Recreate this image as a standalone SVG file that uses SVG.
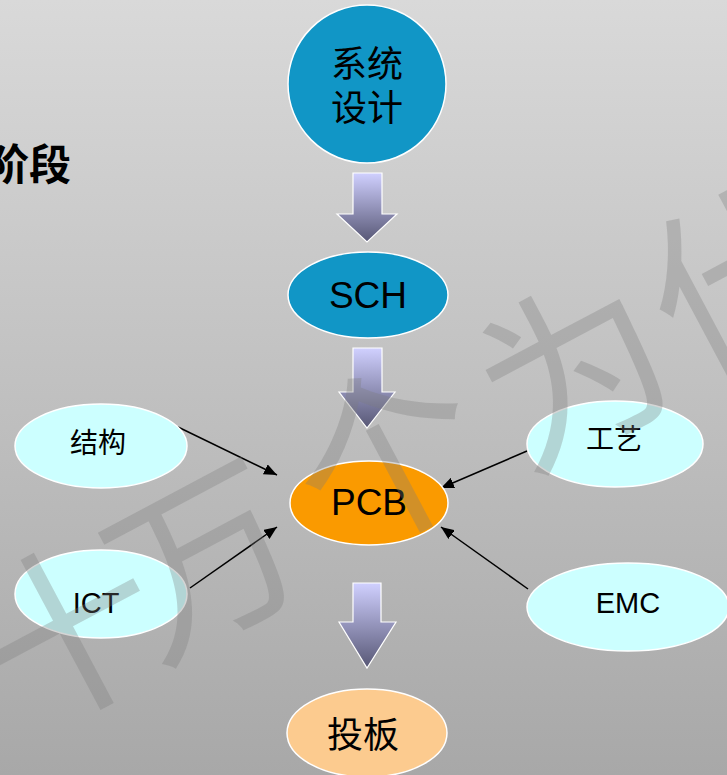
<svg xmlns="http://www.w3.org/2000/svg" width="727" height="775" viewBox="0 0 727 775">
  <defs>
    <linearGradient id="bg" x1="0" y1="0" x2="0" y2="1">
      <stop offset="0" stop-color="#d9d9d9"/>
      <stop offset="1" stop-color="#a8a8a8"/>
    </linearGradient>
    <linearGradient id="flow" x1="0" y1="0" x2="0" y2="1">
      <stop offset="0" stop-color="#d0d0ff"/>
      <stop offset="1" stop-color="#575775"/>
    </linearGradient>
    <marker id="head" viewBox="0 0 10 10" refX="10" refY="5" markerWidth="13" markerHeight="11" orient="auto" markerUnits="userSpaceOnUse" preserveAspectRatio="none">
      <path d="M0,0 L10,5 L0,10 Z" fill="#000"/>
    </marker>
  </defs>
  <style>
    .node { stroke: #ffffff; stroke-width: 1.5; }
    .blue { fill: #1196c6; }
    .orange { fill: #fa9a00; }
    .peach { fill: #fccb8f; }
    .cyan { fill: #ccffff; }
    .flow { fill: url(#flow); stroke: #ffffff; stroke-width: 1.2; }
    .link { stroke: #000; stroke-width: 1.5; fill: none; marker-end: url(#head); }
    .zh { font-family: "Noto Sans CJK SC", sans-serif; fill: #000; text-anchor: middle; }
    .en { font-family: "Liberation Sans", Arial, sans-serif; fill: #000; text-anchor: middle; }
    .mark { font-family: "Noto Sans CJK SC", sans-serif; font-size: 185px; fill: #7c7c7c; fill-opacity: 0.32; text-anchor: middle; dominant-baseline: central; }
  </style>

  <!-- backdrop -->
  <rect width="727" height="775" fill="url(#bg)"/>

  <!-- heading (runs off the left edge) -->
  <text x="71" y="180" font-family="'Noto Sans CJK SC', sans-serif" font-size="42" font-weight="bold" fill="#000" text-anchor="end">阶段</text>

  <!-- main flow arrows -->
  <g id="flow-arrows">
    <path class="flow" d="M353,173 H382 V214 H397 L367,242 L337,214 H353 Z"/>
    <path class="flow" d="M353,348 H382 V392 H395 L367,428 L339,392 H353 Z"/>
    <path class="flow" d="M353,583 H381 V622 H396 L367,668 L339,622 H353 Z"/>
  </g>

  <!-- connectors -->
  <g id="connectors">
    <line class="link" x1="178" y1="427" x2="277" y2="475"/>
    <line class="link" x1="190" y1="588" x2="277" y2="527"/>
    <line class="link" x1="527" y1="451" x2="441" y2="488"/>
    <line class="link" x1="528" y1="589" x2="441" y2="527"/>
  </g>

  <g id="node-system">
    <circle class="node blue" cx="367" cy="84" r="79"/>
    <text class="zh" font-size="36"><tspan x="367" y="77">系统</tspan><tspan x="367" y="121">设计</tspan></text>
  </g>

  <g id="node-sch">
    <ellipse class="node blue" cx="368" cy="295" rx="80" ry="43"/>
    <text class="en" x="368" y="308" font-size="37">SCH</text>
  </g>

  <g id="node-pcb">
    <ellipse class="node orange" cx="369" cy="503" rx="79" ry="42"/>
    <text class="en" x="369" y="515" font-size="37">PCB</text>
  </g>

  <g id="node-board">
    <ellipse class="node peach" cx="367" cy="733" rx="80" ry="44"/>
    <text class="zh" x="363" y="748" font-size="36">投板</text>
  </g>

  <g id="node-structure">
    <ellipse class="node cyan" cx="101" cy="446" rx="86" ry="42"/>
    <text class="zh" x="98" y="453" font-size="28" fill="#333">结构</text>
  </g>

  <g id="node-ict">
    <ellipse class="node cyan" cx="101" cy="594" rx="86" ry="44"/>
    <text class="en" x="96" y="613" font-size="29">ICT</text>
  </g>

  <g id="node-process">
    <ellipse class="node cyan" cx="615" cy="444" rx="88" ry="43"/>
    <text class="zh" x="614" y="449" font-size="28" fill="#222">工艺</text>
  </g>

  <g id="node-emc">
    <ellipse class="node cyan" cx="628" cy="607" rx="101" ry="44"/>
    <text class="en" x="628" y="613" font-size="29">EMC</text>
  </g>

  <!-- faint diagonal watermark over everything -->
  <g id="watermark">
    <text class="mark" x="62" y="622" transform="rotate(-28 62 622)">十</text>
    <text class="mark" x="198" y="548" transform="rotate(-28 198 548)">万</text>
    <text class="mark" x="382" y="445" transform="rotate(-28 382 445)">个</text>
    <text class="mark" x="568" y="360" transform="rotate(-28 568 360)">为</text>
    <text class="mark" x="735" y="268" transform="rotate(-28 735 268)">什</text>
  </g>
</svg>
